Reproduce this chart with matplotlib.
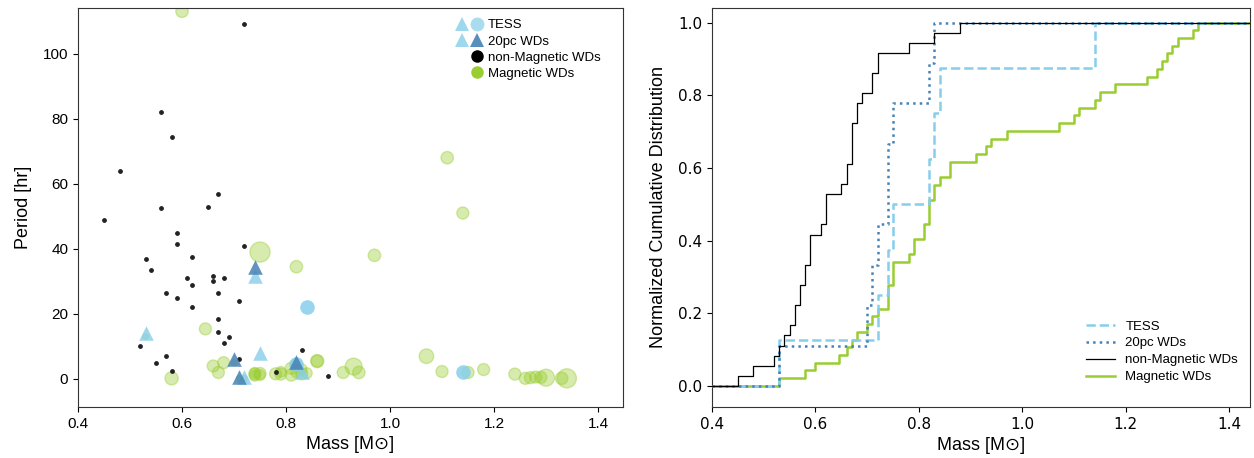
import numpy as np
import matplotlib
matplotlib.use("Agg")
import matplotlib.pyplot as plt
from matplotlib.lines import Line2D
from matplotlib.legend_handler import HandlerTuple

plt.rcParams['font.family'] = ['Liberation Sans', 'DejaVu Sans']

# ---- data ----
# non-magnetic WDs
nonmag_mass = [0.45, 0.48, 0.52, 0.53, 0.54, 0.55, 0.56, 0.56, 0.57, 0.57, 0.58, 0.58,
               0.59, 0.59, 0.59, 0.61, 0.62, 0.62, 0.62, 0.65, 0.66, 0.66, 0.67, 0.67,
               0.67, 0.67, 0.68, 0.68, 0.69, 0.71, 0.71, 0.72, 0.72, 0.78, 0.83, 0.88]
nonmag_period = [49, 64, 10, 37, 33.5, 5, 82, 52.5, 26.5, 7, 74.5, 2.6,
                 45, 41.5, 25, 31, 37.5, 29, 22, 53, 31.5, 30, 57, 26.5,
                 18.5, 14.3, 31, 11, 13, 24, 6, 41, 109, 2, 9, 1]

# magnetic WDs
mag_mass = [0.53, 0.58, 0.60, 0.645, 0.66, 0.67, 0.68, 0.70, 0.71, 0.72, 0.74, 0.74,
            0.74, 0.75, 0.75, 0.75, 0.78, 0.79, 0.79, 0.81, 0.81, 0.82, 0.82, 0.82,
            0.83, 0.83, 0.84, 0.86, 0.86, 0.91, 0.93, 0.94, 0.97, 1.07, 1.10, 1.11,
            1.14, 1.15, 1.18, 1.24, 1.26, 1.27, 1.28, 1.29, 1.30, 1.33, 1.34]
mag_period = [13, 0.2, 113, 15.4, 4, 2, 5, 5, 0.2, 0.2, 1.5, 1.9,
              1.0, 39, 1.7, 1.2, 1.6, 1.5, 2.2, 1.2, 3.3, 34.5, 2, 4.5,
              1.6, 3, 1.8, 5.5, 5.5, 2, 3.8, 2, 38, 7, 2.3, 68,
              51, 2, 2.9, 1.5, 0.2, 0.4, 0.6, 0.5, 0.4, 0.2, 0.2]
mag_size = [15, 90, 80, 75, 75, 75, 75, 15, 15, 15, 75, 60,
            60, 210, 75, 60, 75, 75, 60, 75, 75, 80, 60, 60,
            75, 60, 60, 90, 75, 75, 150, 80, 80, 110, 75, 80,
            75, 75, 75, 75, 75, 75, 75, 75, 150, 80, 190]

# objects in both TESS and 20pc samples
shared_mass = [0.53, 0.72, 0.74, 0.75, 0.83]
shared_period = [14, 0.7, 31.7, 8, 2.3]
# TESS only
tess_only_mass = [0.82, 0.84, 1.14]
tess_only_period = [4.5, 22, 2.3]
# 20pc only
pc20_only_mass = [0.70, 0.71, 0.74, 0.82]
pc20_only_period = [6, 0.7, 34.5, 5.3]

tess_mass = shared_mass + tess_only_mass
pc20_mass = shared_mass + pc20_only_mass

light_blue = '#87CEEB'
dark_blue = '#4682B4'
green = '#9ACD32'

fig = plt.figure(figsize=(12.54, 4.58), dpi=100)
ax1 = fig.add_axes([0.0622, 0.1114, 0.4346, 0.8711])
ax2 = fig.add_axes([0.5678, 0.1114, 0.4290, 0.8711])

# ---- left: period vs mass ----
ax1.scatter(mag_mass, mag_period, s=mag_size, color=green, alpha=0.4, zorder=2)
ax1.scatter(nonmag_mass, nonmag_period, s=6, color='#222222', zorder=3)
ax1.scatter(tess_only_mass, tess_only_period, s=110, marker='o', color=light_blue,
            alpha=0.85, linewidths=0, zorder=4)
ax1.scatter(shared_mass, shared_period, s=110, marker='^', color=light_blue,
            alpha=0.8, linewidths=0, zorder=5)
ax1.scatter(pc20_only_mass, pc20_only_period, s=110, marker='^', color=dark_blue,
            alpha=0.85, linewidths=0, zorder=6)

ax1.set_xlim(0.4, 1.448)
ax1.set_ylim(-8.6, 114)
ax1.set_xticks([0.4, 0.6, 0.8, 1.0, 1.2, 1.4])
ax1.set_yticks([0, 20, 40, 60, 80, 100])
ax1.tick_params(labelsize=11)
ax1.set_xlabel('Mass [M\u2299]', fontsize=13)
ax1.set_ylabel('Period [hr]', fontsize=13, labelpad=8)

blank = Line2D([], [], ls='', marker='o', alpha=0)
h_lt = Line2D([], [], ls='', marker='^', ms=10, color=light_blue, alpha=0.8, mew=0)
h_lc = Line2D([], [], ls='', marker='o', ms=10, color=light_blue, alpha=0.7, mew=0)
h_dt = Line2D([], [], ls='', marker='^', ms=10, color=dark_blue, alpha=0.9, mew=0)
h_k = Line2D([], [], ls='', marker='o', ms=9, color='black', mew=0)
h_g = Line2D([], [], ls='', marker='o', ms=9, color=green, mew=0)
ax1.legend([(h_lt, h_lc), (h_lt, h_dt), (blank, h_k), (blank, h_g)],
           ['TESS', '20pc WDs', 'non-Magnetic WDs', 'Magnetic WDs'],
           handler_map={tuple: HandlerTuple(ndivide=None, pad=0.3)},
           loc='upper right', bbox_to_anchor=(0.983, 1.005), borderaxespad=0.6,
           frameon=False, fontsize=9.5, handlelength=2.0,
           handletextpad=0.4, labelspacing=0.3)

# ---- right: cumulative distributions ----
def ecdf(masses, lo=0.4, hi=1.44):
    m = np.sort(masses)
    n = len(m)
    x = np.concatenate([[lo], m, [hi]])
    y = np.concatenate([[0], np.arange(1, n + 1) / n, [1]])
    return x, y

x, y = ecdf(tess_mass)
ax2.step(x, y, where='post', color=light_blue, ls='--', lw=1.8, label='TESS', zorder=3)
x, y = ecdf(pc20_mass)
ax2.step(x, y, where='post', color=dark_blue, ls=':', lw=1.8, label='20pc WDs', zorder=4)
x, y = ecdf(nonmag_mass)
ax2.step(x, y, where='post', color='black', lw=0.9, label='non-Magnetic WDs', zorder=5)
x, y = ecdf(mag_mass)
ax2.step(x, y, where='post', color=green, lw=1.8, label='Magnetic WDs', zorder=2)

ax2.set_xlim(0.4, 1.44)
ax2.set_ylim(-0.058, 1.04)
ax2.set_xticks([0.4, 0.6, 0.8, 1.0, 1.2, 1.4])
ax2.set_yticks([0.0, 0.2, 0.4, 0.6, 0.8, 1.0])
for lab in ax2.get_xticklabels() + ax2.get_yticklabels():
    lab.set_family('DejaVu Sans')
ax2.tick_params(labelsize=11)
ax2.set_xlabel('Mass [M\u2299]', fontsize=13)
ax2.set_ylabel('Normalized Cumulative Distribution', fontsize=13, labelpad=8)
ax2.legend(loc='lower right', frameon=False, fontsize=9.5, handlelength=2.2,
           labelspacing=0.35, bbox_to_anchor=(1.0, 0.03))

for ax in (ax1, ax2):
    for sp in ax.spines.values():
        sp.set_color('#333333')

fig.savefig('out.png', dpi=100)
